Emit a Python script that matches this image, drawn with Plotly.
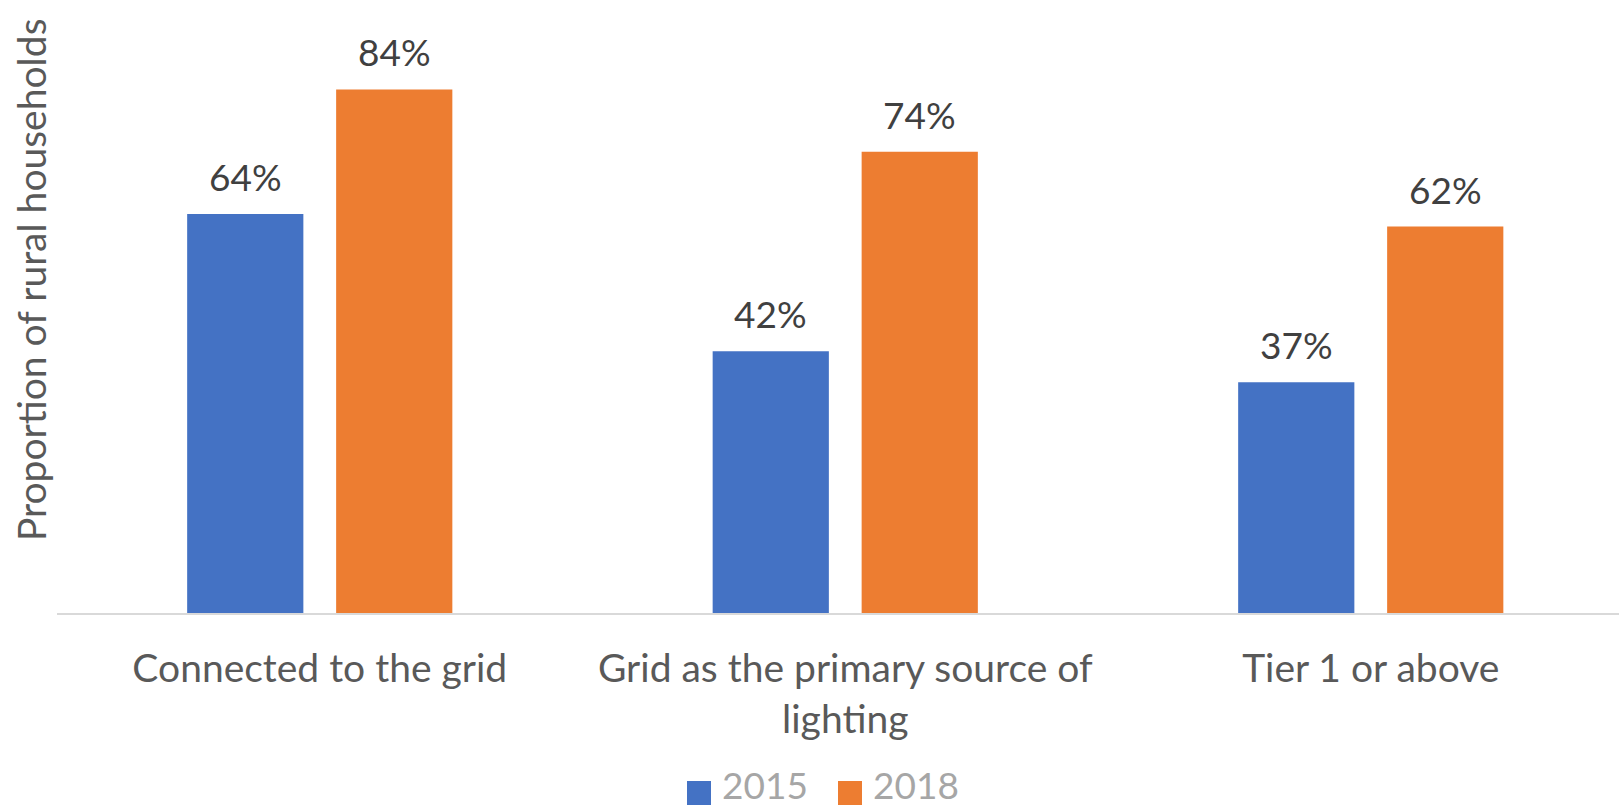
import plotly.graph_objects as go

# Chart data
categories = ["Connected to the grid", "Grid as the primary source of<br>lighting", "Tier 1 or above"]
series_names = ["2015", "2018"]
values_2015 = [0.64, 0.42, 0.37]
values_2018 = [0.84, 0.74, 0.62]
series_colors = ["#4472C4", "#ED7D31"]

FONT = "Lato, Calibri, Carlito, 'Open Sans', sans-serif"
W, H = 1619, 810
L, R, T, B = 57, 0, 52, 197
plot_w = W - L - R
plot_h = H - T - B

fig = go.Figure()
series = [values_2015, values_2018]
for name, vals, col in zip(series_names, series, series_colors):
    fig.add_trace(go.Bar(
        x=categories, y=vals, name=name,
        marker=dict(color=col, line=dict(width=0)),
        showlegend=False, hoverinfo="skip",
    ))

# Value labels above each bar (offset left/right to sit over each bar in the group)
half_slot_px = 74.5
for k, vals in enumerate(series):
    shift = -half_slot_px if k == 0 else half_slot_px
    for cat, v in zip(categories, vals):
        fig.add_annotation(
            x=cat, y=v, xref="x", yref="y",
            text=f"{round(v * 100)}%", showarrow=False,
            xshift=shift, yshift=13, yanchor="bottom",
            font=dict(family=FONT, size=37, color="#404040"),
        )

# Y-axis title
fig.add_annotation(
    x=(31 - L) / plot_w, y=(613 - 280) / plot_h, xref="paper", yref="paper",
    text="Proportion of rural households", textangle=-90, showarrow=False,
    xanchor="center", yanchor="middle",
    font=dict(family=FONT, size=39, color="#595959"),
)

# Legend drawn as squares with labels below the plot
legend_x = [687, 838]
for name, col, lx in zip(series_names, series_colors, legend_x):
    fig.add_shape(
        type="rect", xref="paper", yref="paper",
        x0=(lx - L) / plot_w, x1=(lx + 24 - L) / plot_w,
        y0=(613 - 805) / plot_h, y1=(613 - 781) / plot_h,
        fillcolor=col, line=dict(width=0),
    )
    fig.add_annotation(
        x=(lx + 33 - L) / plot_w, y=(613 - 809) / plot_h, xref="paper", yref="paper",
        text=name, showarrow=False, xanchor="left", yanchor="bottom",
        font=dict(family=FONT, size=37, color="#A6A6A6"),
    )

fig.update_layout(
    width=W, height=H,
    margin=dict(l=L, r=R, t=T, b=B, pad=0),
    paper_bgcolor="white", plot_bgcolor="white",
    barmode="group", bargap=0.433, bargroupgap=0.22,
    font=dict(family=FONT),
    xaxis=dict(
        range=[-0.5, -0.5 + plot_w / 525.5],
        showline=True, linecolor="#D9D9D9", linewidth=2,
        ticks="", showgrid=False, zeroline=False,
        tickfont=dict(family=FONT, size=39, color="#595959"),
        ticklabelstandoff=20,
    ),
    yaxis=dict(
        range=[0, 0.9], visible=False, showgrid=False, zeroline=False,
    ),
)

fig.write_html("out.html")
